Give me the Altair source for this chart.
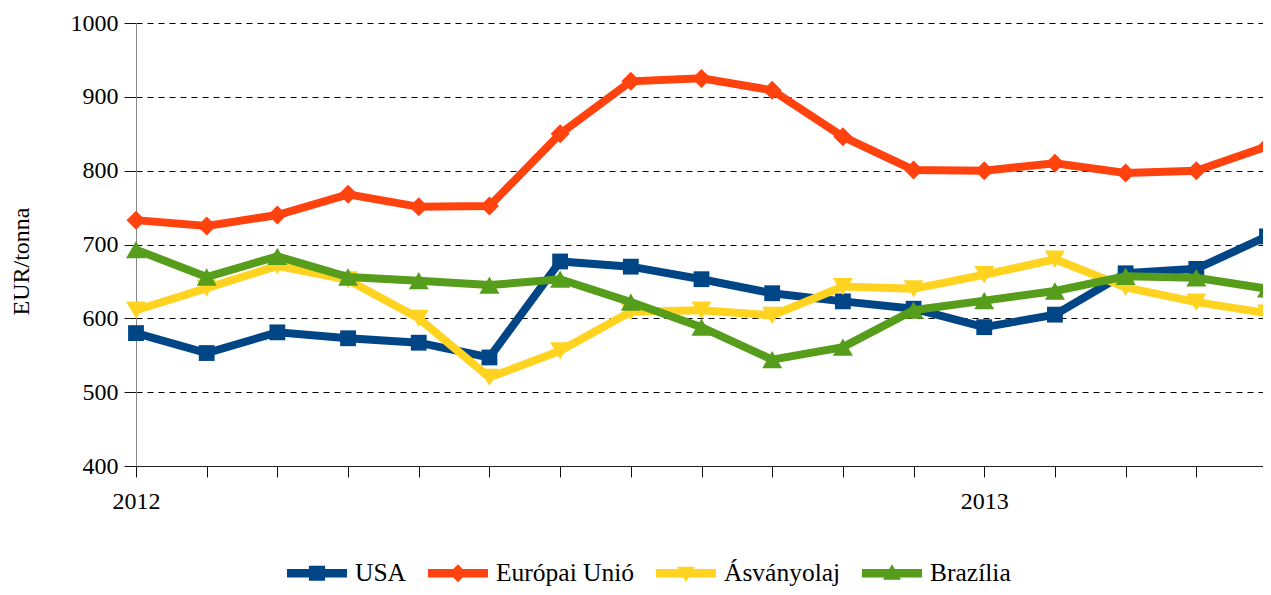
import altair as alt
import pandas as pd

months = ["2012-01", "2012-02", "2012-03", "2012-04", "2012-05", "2012-06",
          "2012-07", "2012-08", "2012-09", "2012-10", "2012-11", "2012-12",
          "2013-01", "2013-02", "2013-03", "2013-04", "2013-05"]

series = ["USA", "Európai Unió", "Ásványolaj", "Brazília"]
colors = ["#004586", "#ff420e", "#ffd320", "#579d1c"]
shapes = ["square", "diamond", "triangle-down", "triangle-up"]
marker_sizes = [250, 361, 400, 400]

usa = [580, 553, 581, 573, 567, 547, 677, 670, 653, 634, 623, 613, 588, 605, 661, 667, 711]
eu = [733, 725, 740, 768, 751, 752, 850, 921, 925, 909, 846, 801, 800, 810, 797, 800, 833]
asv = [611, 641, 671, 652, 600, 520, 556, 609, 611, 604, 643, 640, 659, 680, 642, 622, 607]
braz = [693, 656, 684, 656, 651, 645, 653, 622, 588, 544, 561, 611, 624, 637, 657, 655, 640]

y_ticks = [400, 500, 600, 700, 800, 900, 1000]

# legend symbols: a bar with the series marker in its middle
legend_paths = [
    "M-1,-0.14H1V0.14H-1Z M-0.27,-0.25H0.27V0.25H-0.27Z",
    "M-1,-0.14H1V0.14H-1Z M0,-0.3L0.3,0L0,0.3L-0.3,0Z",
    "M-1,-0.14H1V0.14H-1Z M-0.3,-0.22L0.3,-0.22L0,0.3Z",
    "M-1,-0.14H1V0.14H-1Z M0,-0.3L0.3,0.22L-0.3,0.22Z",
]

values = [usa, eu, asv, braz]
rows = []
for s, vals in zip(series, values):
    for m, v in zip(months, vals):
        rows.append({"month": m, "series": s, "value": v})
df = pd.DataFrame(rows)

FONT = "Liberation Serif"

x_enc = alt.X(
    "month:O",
    scale=alt.Scale(type="point", padding=0),
    axis=alt.Axis(
        title=None,
        labelExpr="slice(datum.value, 5) == '01' ? slice(datum.value, 0, 4) : ''",
        labelAngle=0,
        labelOverlap=False,
        labelFont=FONT,
        labelFontSize=24,
        labelColor="black",
        labelPadding=12,
        tickSize=11,
        tickColor="#111",
        domainColor="#222",
        grid=False,
    ),
)
y_enc = alt.Y(
    "value:Q",
    scale=alt.Scale(domain=[400, 1000], nice=False, zero=False),
    axis=alt.Axis(
        values=y_ticks,
        format="d",
        title="EUR/tonna",
        titleFont=FONT,
        titleFontSize=24,
        titleFontWeight="normal",
        titleColor="black",
        titleAngle=-90,
        titleX=-108,
        titleY=238,
        titleAlign="center",
        titleBaseline="alphabetic",
        labelFont=FONT,
        labelFontSize=24,
        labelColor="black",
        labelPadding=6,
        tickSize=12,
        tickColor="#111",
        domainColor="#888",
        grid=True,
        gridColor="#000",
        gridDash=[6, 5],
        gridWidth=1,
    ),
)

base = alt.Chart(df)
layers = []
for s, c, sh, sz in zip(series, colors, shapes, marker_sizes):
    sub = base.transform_filter(alt.datum.series == s)
    layers.append(sub.mark_line(color=c, strokeWidth=8).encode(x=x_enc, y=y_enc))
    layers.append(
        sub.mark_point(shape=sh, fill=c, filled=True, size=sz, opacity=1, strokeWidth=0).encode(
            x=x_enc, y=y_enc
        )
    )

legend_cfg = alt.Legend(
    title=None,
    orient="none",
    legendX=151,
    legendY=520,
    direction="horizontal",
    labelFont=FONT,
    labelFontSize=25.5,
    labelColor="black",
    symbolSize=3600,
    symbolStrokeWidth=0,
    symbolOpacity=1,
    labelOffset=8,
    columnPadding=21,
)

legend_layer = (
    base.transform_filter("false")
    .mark_point(filled=True, opacity=1, strokeWidth=0)
    .encode(
        x=alt.X("month:O"),
        y=alt.Y("value:Q"),
        color=alt.Color("series:N", scale=alt.Scale(domain=series, range=colors), legend=legend_cfg),
        shape=alt.Shape("series:N", scale=alt.Scale(domain=series, range=legend_paths), legend=legend_cfg),
    )
)
layers.append(legend_layer)

chart = (
    alt.layer(*layers)
    .properties(
        width=1131,
        height=443,
        autosize=alt.AutoSizeParams(type="none"),
        padding={"left": 128, "top": 15, "right": -4, "bottom": 121},
        background="white",
    )
    .configure_view(stroke=None)
)

chart.save("out.html", embed_options={"renderer": "svg", "actions": False})
